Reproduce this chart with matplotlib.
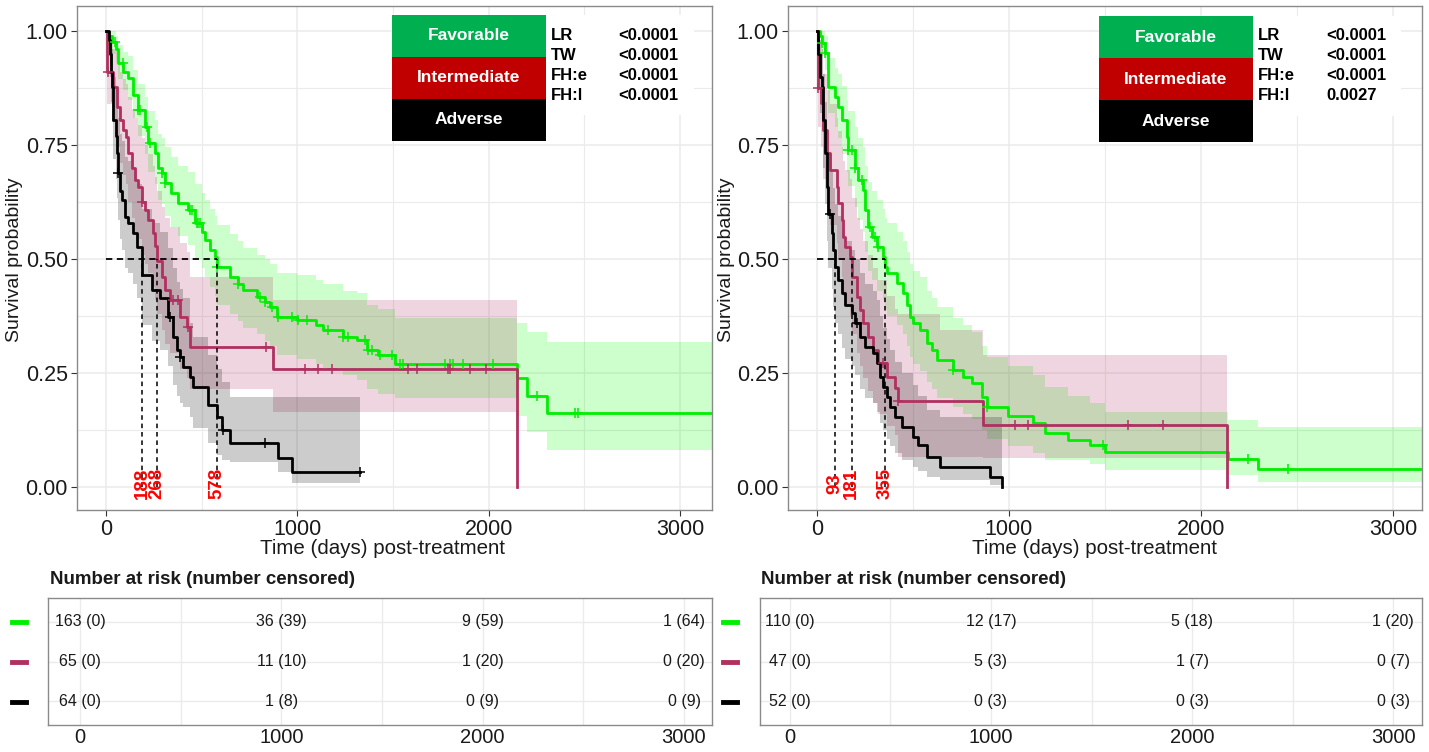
import numpy as np
import matplotlib
matplotlib.use("Agg")
import matplotlib.pyplot as plt
from matplotlib import font_manager as fm
from matplotlib.patches import Rectangle
from matplotlib.lines import Line2D

# ---------------- data ----------------
# Left panel
L_fav_t = [0,10,30,50,63,90,115,140,167,204,220,256,272,290,308,340,376,429,465,500,518,545,570,578,648,690,716,789,830,857,894,998,1100,1134,1239,1312,1364,1422,1511,2148,2201,2305]
L_fav_s = [1.0,0.99,0.975,0.96,0.93,0.91,0.897,0.86,0.827,0.79,0.754,0.732,0.70,0.689,0.667,0.645,0.623,0.607,0.579,0.56,0.542,0.52,0.504,0.482,0.46,0.445,0.432,0.417,0.405,0.395,0.373,0.366,0.355,0.344,0.329,0.322,0.30,0.29,0.27,0.239,0.20,0.162]
L_fav_lo = [1.0,0.975,0.95,0.93,0.895,0.87,0.85,0.81,0.77,0.73,0.69,0.665,0.63,0.62,0.595,0.57,0.55,0.53,0.50,0.48,0.46,0.44,0.42,0.40,0.38,0.365,0.35,0.335,0.32,0.31,0.29,0.28,0.27,0.26,0.245,0.235,0.215,0.205,0.195,0.155,0.12,0.081]
L_fav_hi = [1.0,1.0,1.0,0.99,0.97,0.955,0.945,0.915,0.885,0.855,0.825,0.805,0.775,0.765,0.745,0.725,0.705,0.69,0.665,0.645,0.63,0.61,0.595,0.575,0.555,0.54,0.525,0.51,0.50,0.49,0.47,0.465,0.455,0.445,0.43,0.425,0.40,0.39,0.37,0.36,0.34,0.318]
L_fav_cens = [47,89,167,178,214,230,293,308,439,450,475,481,491,578,690,805,831,868,899,972,1004,1051,1160,1239,1265,1354,1370,1390,1432,1495,1537,1553,1772,1798,1814,1866,2023,2253,2452,2467]
L_fav_end = 3200

L_int_t = [0,3,6,37,57,73,89,105,115,136,152,167,188,204,220,246,258,268,293,308,335,387,423,439,873,2148]
L_int_s = [1.0,0.955,0.91,0.877,0.833,0.805,0.783,0.768,0.732,0.70,0.673,0.658,0.625,0.607,0.585,0.557,0.528,0.497,0.46,0.432,0.41,0.373,0.351,0.307,0.26,0.0]
L_int_lo = [1.0,0.92,0.84,0.80,0.745,0.71,0.685,0.665,0.625,0.59,0.56,0.545,0.51,0.49,0.47,0.44,0.41,0.38,0.345,0.315,0.295,0.26,0.24,0.215,0.164,0.0]
L_int_hi = [1.0,1.0,0.98,0.96,0.93,0.91,0.895,0.885,0.855,0.83,0.81,0.795,0.765,0.75,0.73,0.705,0.68,0.65,0.615,0.59,0.57,0.535,0.515,0.46,0.41,0.0]
L_int_cens = [8,188,350,376,429,836,1040,1108,1181,1579,1626,1788,1798,1903,1986]
L_int_end = 2148

L_adv_t = [0,15,21,28,31,35,37,50,57,63,75,84,99,115,141,162,188,240,282,324,350,371,387,403,439,455,533,580,606,648,899,972]
L_adv_s = [1.0,0.98,0.95,0.91,0.877,0.84,0.805,0.77,0.732,0.689,0.65,0.63,0.592,0.579,0.557,0.526,0.465,0.432,0.414,0.373,0.329,0.30,0.285,0.263,0.241,0.219,0.18,0.154,0.125,0.096,0.064,0.033]
L_adv_lo = [1.0,0.95,0.90,0.845,0.80,0.76,0.72,0.675,0.635,0.585,0.545,0.52,0.48,0.47,0.445,0.415,0.355,0.32,0.30,0.265,0.225,0.20,0.185,0.175,0.154,0.13,0.096,0.07,0.06,0.055,0.033,0.009]
L_adv_hi = [1.0,1.0,1.0,0.98,0.96,0.93,0.90,0.875,0.845,0.81,0.775,0.76,0.725,0.715,0.695,0.665,0.61,0.58,0.56,0.525,0.48,0.45,0.435,0.415,0.36,0.33,0.29,0.26,0.23,0.197,0.197,0.197]
L_adv_cens = [63,335,387,612,831,1328]
L_adv_end = 1328

# Right panel
R_fav_t = [0,15,26,42,57,94,109,130,156,161,198,214,240,250,266,286,312,344,354,365,417,448,469,485,500,536,573,600,625,708,760,807,859,885,995,1125,1188,1307,1422,1500,2141,2297]
R_fav_s = [1.0,0.99,0.974,0.952,0.877,0.855,0.833,0.805,0.768,0.739,0.70,0.673,0.651,0.607,0.57,0.548,0.526,0.504,0.482,0.469,0.447,0.425,0.40,0.373,0.36,0.344,0.316,0.30,0.278,0.257,0.241,0.228,0.197,0.175,0.156,0.14,0.118,0.103,0.092,0.077,0.061,0.04]
R_fav_lo = [1.0,0.975,0.945,0.915,0.82,0.79,0.765,0.73,0.69,0.66,0.615,0.585,0.56,0.515,0.475,0.455,0.43,0.41,0.39,0.375,0.355,0.335,0.31,0.285,0.27,0.255,0.23,0.215,0.195,0.175,0.16,0.15,0.125,0.105,0.09,0.075,0.06,0.059,0.05,0.037,0.026,0.011]
R_fav_hi = [1.0,1.0,1.0,0.99,0.94,0.92,0.905,0.88,0.85,0.825,0.79,0.765,0.745,0.705,0.67,0.65,0.63,0.61,0.59,0.58,0.56,0.54,0.515,0.49,0.475,0.46,0.43,0.415,0.395,0.37,0.355,0.34,0.31,0.285,0.265,0.245,0.22,0.20,0.185,0.164,0.147,0.132]
R_fav_cens = [26,42,161,182,198,234,276,302,318,708,885,1490,2245,2453]
R_fav_end = 3200

R_int_t = [0,3,4,20,31,52,68,104,109,130,135,146,172,182,208,224,240,266,292,318,365,406,422,640,865,2135]
R_int_s = [1.0,0.957,0.875,0.842,0.783,0.732,0.695,0.658,0.623,0.585,0.548,0.526,0.504,0.46,0.417,0.388,0.36,0.329,0.30,0.272,0.241,0.217,0.19,0.19,0.136,0.0]
R_int_lo = [1.0,0.89,0.79,0.745,0.675,0.615,0.575,0.535,0.50,0.46,0.42,0.40,0.375,0.335,0.295,0.265,0.24,0.21,0.185,0.16,0.135,0.115,0.066,0.066,0.064,0.0]
R_int_hi = [1.0,1.0,0.975,0.95,0.905,0.87,0.84,0.81,0.78,0.745,0.715,0.695,0.675,0.635,0.59,0.565,0.54,0.51,0.48,0.455,0.42,0.39,0.38,0.344,0.29,0.0]
R_int_cens = [5,344,422,1031,1099,1620,1802]
R_int_end = 2135

R_adv_t = [0,5,16,26,31,42,52,57,78,85,94,109,130,146,182,198,224,250,292,312,328,344,365,380,406,443,500,526,573,641,901,964]
R_adv_s = [1.0,0.95,0.90,0.877,0.805,0.732,0.658,0.60,0.557,0.52,0.482,0.454,0.425,0.40,0.382,0.36,0.329,0.307,0.294,0.272,0.241,0.219,0.197,0.175,0.154,0.132,0.11,0.092,0.066,0.044,0.022,0.0]
R_adv_lo = [1.0,0.895,0.82,0.79,0.70,0.62,0.54,0.48,0.435,0.395,0.36,0.335,0.305,0.28,0.265,0.245,0.215,0.195,0.185,0.165,0.14,0.125,0.105,0.09,0.075,0.06,0.045,0.035,0.022,0.015,0.004,0.0]
R_adv_hi = [1.0,1.0,0.98,0.96,0.905,0.845,0.78,0.73,0.69,0.655,0.62,0.595,0.565,0.54,0.52,0.50,0.47,0.445,0.43,0.41,0.375,0.35,0.325,0.30,0.275,0.25,0.225,0.20,0.17,0.154,0.154,0.0]
R_adv_cens = [68,208]
R_adv_end = 964

L_medians = [188, 268, 578]
R_medians = [93, 181, 355]

groups = ["Favorable", "Intermediate", "Adverse"]
stat_names = ["LR", "TW", "FH:e", "FH:l"]
L_pvals = ["<0.0001", "<0.0001", "<0.0001", "<0.0001"]
R_pvals = ["<0.0001", "<0.0001", "<0.0001", "0.0027"]

risk_times = [0, 1000, 2000, 3000]
L_risk_fav = ["163 (0)", "36 (39)", "9 (59)", "1 (64)"]
L_risk_int = ["65 (0)", "11 (10)", "1 (20)", "0 (20)"]
L_risk_adv = ["64 (0)", "1 (8)", "0 (9)", "0 (9)"]
R_risk_fav = ["110 (0)", "12 (17)", "5 (18)", "1 (20)"]
R_risk_int = ["47 (0)", "5 (3)", "1 (7)", "0 (7)"]
R_risk_adv = ["52 (0)", "0 (3)", "0 (3)", "0 (3)"]

# ---------------- styling ----------------
names = {f.name for f in fm.fontManager.ttflist}
NARROW = None
for cand in ["Liberation Sans Narrow", "Arial Narrow", "DejaVu Sans Condensed"]:
    if cand in names:
        NARROW = cand
        break
plt.rcParams["font.family"] = ["Liberation Sans", "DejaVu Sans"]
if NARROW is not None:
    TAB_FAM = [NARROW, "Liberation Sans"]
    TAB_SIZE, TITLE_SIZE = 13.5, 15
else:
    TAB_FAM = ["Liberation Sans", "DejaVu Sans"]
    TAB_SIZE, TITLE_SIZE = 11.5, 13.5

LINE_COLS = ["#00EE00", "#B03060", "#000000"]
BAND_COLS = ["#00FF00", "#B03060", "#000000"]
BOX_COLS = ["#00B050", "#C00000", "#000000"]
GRID = "#EBEBEB"
W, H = 1429, 752

fig = plt.figure(figsize=(W / 100, H / 100), dpi=100)
fig.patch.set_facecolor("white")


def fxp(px):
    return px / W


def fyp(py):
    return 1 - py / H


def add_axes_px(l, t, r, b):
    return fig.add_axes([l / W, 1 - b / H, (r - l) / W, (b - t) / H])


def style_axes(ax):
    for sp in ax.spines.values():
        sp.set_color("#8a8a8a")
        sp.set_linewidth(1.0)
    ax.tick_params(axis="both", colors="#333333", labelcolor="#1a1a1a",
                   length=4, width=0.8, labelsize=15.5, pad=2.5)
    ax.set_axisbelow(True)


def draw_band(ax, t, s, lo, hi, t_end, bcol):
    t = np.asarray(t, float); s = np.asarray(s, float)
    lo = np.asarray(lo, float); hi = np.asarray(hi, float)
    if s[-1] == 0:
        bt = t.copy()
        blo = np.append(lo[:-1], lo[-2]); bhi = np.append(hi[:-1], hi[-2])
        T, S = t, s
    else:
        bt = np.append(t, t_end)
        blo = np.append(lo, lo[-1]); bhi = np.append(hi, hi[-1])
        T, S = np.append(t, t_end), np.append(s, s[-1])
    ax.fill_between(bt, blo, bhi, step="post", color=bcol, alpha=0.2, lw=0)
    return T, S


def km_panel(ax, curves, medians, xlim):
    lines = []
    for (t, s, lo, hi, te, cens), bc in zip(curves, BAND_COLS):
        lines.append(draw_band(ax, t, s, lo, hi, te, bc))
    for (T, S), (t, s, lo, hi, te, cens), lc in zip(lines, curves, LINE_COLS):
        ax.step(T, S, where="post", color=lc, lw=2.0, zorder=3)
        c = np.asarray(cens, float)
        idx = np.searchsorted(np.asarray(t, float), c, side="right") - 1
        ax.plot(c, np.asarray(s)[idx], ls="none", marker="+", ms=7, mew=1.1,
                color=lc, zorder=4)
    # median lines
    ax.plot([0, max(medians)], [0.5, 0.5], color="black", lw=1.3,
            dashes=(3.5, 2.5), zorder=5)
    for m in medians:
        ax.plot([m, m], [0, 0.5], color="black", lw=1.1, dashes=(3, 2.5), zorder=5)
        ax.text(m, 0.008, str(m), rotation=90, color="#FF0000", fontsize=13.5,
                fontweight="bold", ha="center", va="center", zorder=6)
    ax.set_xlim(*xlim)
    ax.set_ylim(-0.05, 1.055)
    ax.set_xticks([0, 1000, 2000, 3000])
    ax.set_xticks([500, 1500, 2500], minor=True)
    ax.set_yticks([0, 0.25, 0.5, 0.75, 1.0])
    ax.set_yticklabels(["0.00", "0.25", "0.50", "0.75", "1.00"])
    ax.set_yticks([0.125, 0.375, 0.625, 0.875], minor=True)
    ax.grid(which="major", color=GRID, lw=1.1)
    ax.grid(which="minor", color=GRID, lw=0.8)
    style_axes(ax)
    ax.tick_params(which="minor", length=0)


def legend_block(x0, y0, stat_x, val_x, pvals):
    bw, bh = 154, 42
    fig.add_artist(Rectangle((fxp(x0), fyp(y0 + 100)), fxp(stat_x + 143 - x0),
                             100 / H, transform=fig.transFigure,
                             facecolor="white", edgecolor="none", zorder=10))
    for i, (g, c) in enumerate(zip(groups, BOX_COLS)):
        top = y0 + i * bh
        fig.add_artist(Rectangle((fxp(x0), fyp(top + bh)), bw / W, bh / H,
                                 transform=fig.transFigure, facecolor=c,
                                 edgecolor="none", zorder=11))
        fig.text(fxp(x0 + bw / 2), fyp(top + bh / 2), g, color="white",
                 fontsize=12.5, fontweight="bold", ha="center", va="center", zorder=12)
    for j, (nm, pv) in enumerate(zip(stat_names, pvals)):
        yy = y0 + 20 + j * 20
        fig.text(fxp(stat_x), fyp(yy), nm, fontsize=12, fontweight="bold",
                 ha="left", va="center", zorder=12)
        fig.text(fxp(val_x), fyp(yy), pv, fontsize=12, fontweight="bold",
                 ha="left", va="center", zorder=12)


# ---------------- KM panels ----------------
axL = add_axes_px(77, 6, 712, 510)
km_panel(axL, [
    (L_fav_t, L_fav_s, L_fav_lo, L_fav_hi, L_fav_end, L_fav_cens),
    (L_int_t, L_int_s, L_int_lo, L_int_hi, L_int_end, L_int_cens),
    (L_adv_t, L_adv_s, L_adv_lo, L_adv_hi, L_adv_end, L_adv_cens),
], L_medians, (-152, 3168))

axR = add_axes_px(788, 6, 1422, 510)
km_panel(axR, [
    (R_fav_t, R_fav_s, R_fav_lo, R_fav_hi, R_fav_end, R_fav_cens),
    (R_int_t, R_int_s, R_int_lo, R_int_hi, R_int_end, R_int_cens),
    (R_adv_t, R_adv_s, R_adv_lo, R_adv_hi, R_adv_end, R_adv_cens),
], R_medians, (-151, 3151))

for cx, lx in [(15, 382), (726, 1094)]:
    fig.text(fxp(cx), fyp(260), "Survival probability", rotation=90, fontsize=14,
             ha="center", va="center", color="#1a1a1a")
    fig.text(fxp(lx), fyp(548), "Time (days) post-treatment", fontsize=14.8,
             ha="center", va="center", color="#1a1a1a")

legend_block(392, 15, 551, 618, L_pvals)
legend_block(1099, 16, 1258, 1326, R_pvals)

# ---------------- risk tables ----------------
axTL = add_axes_px(48, 598, 712, 725)
axTR = add_axes_px(760, 598, 1422, 725)
for ax, rows, xlim, tx, dash_x in [
        (axTL, [L_risk_fav, L_risk_int, L_risk_adv], (-159, 3139), 50, 12),
        (axTR, [R_risk_fav, R_risk_int, R_risk_adv], (-149, 3144), 761, 723)]:
    for r, vals in enumerate(rows):
        y = 3 - r
        for tt, v in zip(risk_times, vals):
            ax.text(tt, y, v, ha="center", va="center", fontsize=TAB_SIZE,
                    family=TAB_FAM, color="#1a1a1a")
    ax.set_xlim(*xlim)
    ax.set_ylim(0.4, 3.6)
    ax.set_xticks([0, 1000, 2000, 3000])
    ax.set_xticks([500, 1500, 2500], minor=True)
    ax.set_yticks([1, 2, 3])
    ax.set_yticklabels([])
    ax.grid(which="both", axis="x", color=GRID, lw=1.0)
    ax.grid(which="major", axis="y", color=GRID, lw=1.0)
    style_axes(ax)
    ax.tick_params(axis="y", length=0)
    ax.tick_params(which="minor", length=0)
    ax.tick_params(axis="x", length=0, pad=2, labelsize=14.5)
    fig.text(fxp(tx), fyp(580), "Number at risk (number censored)", fontsize=TITLE_SIZE,
             fontweight="bold", ha="left", va="center",
             family=TAB_FAM, color="#1a1a1a")
    for r, col in enumerate(LINE_COLS):
        yy = [622, 662, 702][r]
        fig.add_artist(Line2D([fxp(dash_x), fxp(dash_x + 14)], [fyp(yy), fyp(yy)],
                              color=col, lw=3.5, transform=fig.transFigure))

fig.savefig("out.png", dpi=100, facecolor="white")
